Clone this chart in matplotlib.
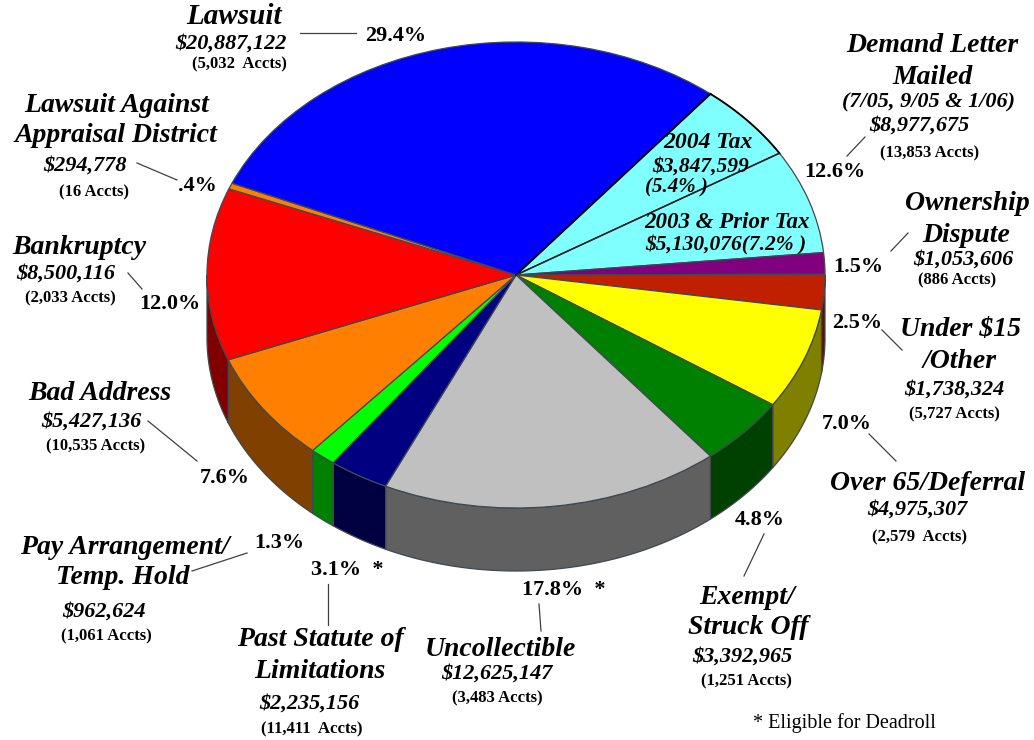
#!/usr/bin/env python3
import numpy as np
import matplotlib
matplotlib.use('Agg')
import matplotlib.pyplot as plt

plt.rcParams['font.family'] = ['Liberation Serif', 'DejaVu Serif']

# clockwise from the lawsuit / demand letter boundary
categories = ['2004 Tax', '2003 & Prior Tax', 'Ownership Dispute', 'Under $15 /Other',
              'Over 65/Deferral', 'Exempt/Struck Off', 'Uncollectible',
              'Past Statute of Limitations', 'Pay Arrangement/Temp. Hold', 'Bad Address',
              'Bankruptcy', 'Lawsuit Against Appraisal District', 'Lawsuit']
amounts = [3847599, 5130076, 1053606, 1738324, 4975307, 3392965, 12625147,
           2235156, 962624, 5427136, 8500116, 294778, 20887122]
top_colors = ['#80ffff', '#80ffff', '#800080', '#c02000', '#ffff00', '#008000', '#c0c0c0',
              '#000080', '#00ff00', '#ff8000', '#ff0000', '#ff8000', '#0000ff']
side_colors = ['#408080', '#408080', '#400040', '#601000', '#808000', '#004000', '#606060',
               '#000040', '#008000', '#804000', '#800000', '#804000', '#000080']

start_angle = 51
cx, cy, rx, ry, depth = 516, 275, 309, 233, 63
edge = '#404850'

fig = plt.figure(figsize=(10.34, 7.4), dpi=100)

# pie axes: unit circle stretched to the ellipse
ax = fig.add_axes([0, 0, 1, 1])
wedges, _ = ax.pie(amounts, colors=top_colors, startangle=start_angle, counterclock=False,
                   wedgeprops=dict(edgecolor=edge, linewidth=0.9, zorder=3))
for w in wedges:
    w.set_clip_on(False)
ax.set_aspect('auto')
ax.set_xlim(-cx / rx, (1034 - cx) / rx)
ax.set_ylim(-(740 - cy) / ry, cy / ry)
ax.axis('off')

# side wall for the part of each slice on the front half
fracs = np.cumsum([0] + amounts) / np.sum(amounts)
angles = start_angle - fracs * 360
d = depth / ry
for i in range(len(amounts)):
    a0, a1 = angles[i], angles[i + 1]
    lo, hi = max(a1, -180), min(a0, 0)
    if hi <= lo:
        continue
    t = np.radians(np.linspace(lo, hi, 60))
    xs = np.r_[np.cos(t), np.cos(t[::-1])]
    ys = np.r_[np.sin(t), np.sin(t[::-1]) - d]
    ax.fill(xs, ys, facecolor=side_colors[i], edgecolor=edge, linewidth=0.9, zorder=2, clip_on=False)

# boundary between blue and the tax slices is heavier
a = np.radians(start_angle)
t = np.radians(np.linspace(angles[1], start_angle, 40))
ax.plot(np.cos(t), np.sin(t), color='black', lw=1.3, zorder=4)
ax.plot([0, np.cos(a)], [0, np.sin(a)], color='black', lw=1.3, zorder=4)
t1 = np.radians(angles[1])
ax.plot([0, np.cos(t1)], [0, np.sin(t1)], color='#202020', lw=1.1, zorder=4)

# overlay in pixel coordinates for the labels
ov = fig.add_axes([0, 0, 1, 1], facecolor='none')
ov.set_xlim(0, 1034)
ov.set_ylim(740, 0)
ov.axis('off')


def name(x, y, s, size=20):
    ov.text(x, y + 1, s, fontsize=size, fontweight='bold', fontstyle='italic',
            ha='center', va='center', color='black', zorder=6)


def money(x, y, s, size=16):
    ov.text(x, y + 1, s, fontsize=size, fontweight='bold', fontstyle='italic',
            ha='center', va='center', color='black', zorder=6)


def accts(x, y, s):
    ov.text(x, y + 1, s, fontsize=12, fontweight='bold', ha='center', va='center',
            color='black', zorder=6)


def pct(x, y, s):
    ov.text(x, y + 1, s, fontsize=16, fontweight='bold', ha='center', va='center',
            color='black', zorder=6)


def lead(x0, y0, x1, y1):
    ov.plot([x0, x1], [y0, y1], color='#404040', lw=0.9, zorder=5)


name(234, 16, 'Lawsuit', 21)
money(231, 43, '$20,887,122')
accts(239, 63, '(5,032  Accts)')
pct(396, 35, '29.4%')
lead(300, 33, 356, 33)

name(932, 44, 'Demand Letter')
name(932, 76, 'Mailed')
money(929, 101, '(7/05, 9/05 & 1/06)')
money(919, 125, '$8,977,675')
accts(930, 152, '(13,853 Accts)')
pct(835, 171, '12.6%')
lead(847, 156, 865, 137)

name(708, 142, '2004 Tax', 17)
money(701, 166, '$3,847,599', 15.5)
money(676, 186, '(5.4% )', 15)
name(727, 221, '2003 & Prior Tax', 16.5)
money(726, 244, '$5,130,076(7.2% )', 15.5)

name(967, 203, 'Ownership')
name(966, 235, 'Dispute')
money(963, 259, '$1,053,606')
accts(957, 279, '(886 Accts)')
pct(858, 266, '1.5%')
lead(891, 251, 908, 233)

name(961, 329, 'Under $15')
name(960, 361, '/Other')
money(954, 389, '$1,738,324')
accts(954, 413, '(5,727 Accts)')
pct(857, 322, '2.5%')
lead(882, 330, 902, 350)

name(928, 483, 'Over 65/Deferral')
money(917, 509, '$4,975,307')
accts(919, 536, '(2,579  Accts)')
pct(847, 423, '7.0%')
lead(869, 434, 896, 461)

name(747, 596, 'Exempt/')
name(748, 627, 'Struck Off')
money(742, 656, '$3,392,965')
accts(746, 680, '(1,251 Accts)')
pct(760, 519, '4.8%')
lead(764, 534, 744, 576)

name(500, 648, 'Uncollectible')
money(497, 673, '$12,625,147')
accts(497, 697, '(3,483 Accts)')
pct(564, 589, '17.8%  *')
lead(539, 604, 541, 631)

name(320, 639, 'Past Statute of')
name(320, 671, 'Limitations')
money(309, 703, '$2,235,156')
accts(312, 728, '(11,411  Accts)')
pct(347, 569, '3.1%  *')
lead(328, 584, 328, 625)

name(125, 546, 'Pay Arrangement/')
name(123, 577, 'Temp. Hold')
money(104, 611, '$962,624')
accts(106, 635, '(1,061 Accts)')
pct(279, 542, '1.3%')
lead(192, 571, 247, 553)

name(100, 393, 'Bad Address')
money(91, 421, '$5,427,136')
accts(96, 445, '(10,535 Accts)')
pct(225, 477, '7.6%')
lead(148, 421, 197, 461)

name(79, 247, 'Bankruptcy')
money(66, 273, '$8,500,116')
accts(70, 297, '(2,033 Accts)')
pct(170, 303, '12.0%')
lead(128, 273, 142, 289)

name(117, 104, 'Lawsuit Against')
name(116, 134, 'Appraisal District')
money(85, 165, '$294,778')
accts(94, 191, '(16 Accts)')
pct(197, 185, '.4%')
lead(137, 163, 177, 180)

ov.text(844, 723, '* Eligible for Deadroll', fontsize=14.5, ha='center', va='center', color='black')

fig.savefig('out.png', dpi=100)
